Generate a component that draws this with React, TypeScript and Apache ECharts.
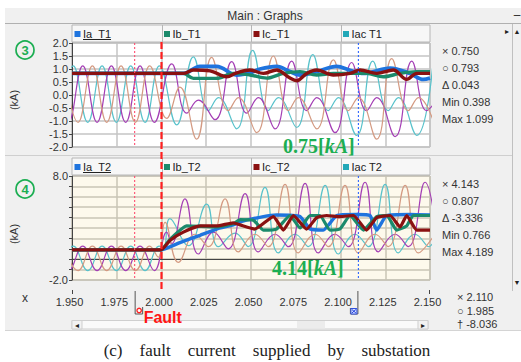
import React, { useEffect, useRef } from "react";
import * as echarts from "echarts";

// ---------- axes ----------
const X_MIN = 1.95;
const X_MAX = 2.15;
const X_STEP = 0.025;
const Y1_MIN = -2;
const Y1_MAX = 2;
const Y1_STEP = 0.5;
const Y2_MIN = -2;
const Y2_MAX = 8;
const Y2_STEP = 1;
const Y2_LABELS = [8, -2];

// ---------- cursors ----------
const FAULT_T = 2.0;
const CURSOR_O = 1.985;
const CURSOR_X = 2.11;

// ---------- texts ----------
const legendT1 = ["Ia_T1", "Ib_T1", "Ic_T1", "Iac T1"];
const legendT2 = ["Ia_T2", "Ib_T2", "Ic_T2", "Iac T2"];
const readoutT1 = ["× 0.750", "○ 0.793", "Δ 0.043", "Min 0.398", "Max 1.099"];
const readoutT2 = ["× 4.143", "○ 0.807", "Δ -3.336", "Min 0.766", "Max 4.189"];
const readoutX = ["× 2.110", "○ 1.985", "† -8.036"];
const annotT1 = "0.75";
const annotT2 = "4.14";
const caption = ["(c)", "fault", "current", "supplied", "by", "substation"];

// ---------- panel 1 (T1) : instantaneous phase currents ----------
const t1InstA: number[][] = [
  [1.9427, -1.05], [1.9507, 1.12], [1.9588, -1.05], [1.9668, 1.12], [1.9748, -1.05],
  [1.9828, 1.12], [1.9908, -1.05], [1.9988, 1.12], [2.0085, -1.15], [2.0178, 1.47],
  [2.0262, -0.6], [2.0318, -0.1], [2.042, -1.3], [2.0509, 1.72], [2.0597, -0.6],
  [2.0653, -0.1], [2.0755, -1.25], [2.0845, 1.55], [2.0932, -0.6], [2.0988, -0.1],
  [2.109, -1.55], [2.118, 1.3], [2.1267, -0.6], [2.1323, -0.1], [2.1426, -1.55], [2.1515, 1.1],
];
const t1InstB: number[][] = [
  [1.9399, 1.12], [1.948, -1.05], [1.956, 1.12], [1.964, -1.05], [1.972, 1.12],
  [1.98, -1.05], [1.988, 1.12], [1.996, -1.05], [2.0057, 1.2], [2.0141, -0.7],
  [2.0206, -0.2], [2.0299, -0.95], [2.0392, 1.28], [2.0476, -0.7], [2.0541, -0.1],
  [2.0634, -1.3], [2.0727, 1.3], [2.0811, -0.6], [2.0867, -0.1], [2.0969, -1.45],
  [2.1062, 1.25], [2.1146, -0.6], [2.1202, -0.1], [2.1305, -1.6], [2.1398, 1.3],
  [2.1481, -0.6], [2.1537, -0.2],
];
const t1InstC: number[][] = [
  [1.9453, 1.12], [1.9534, -1.05], [1.9614, 1.12], [1.9694, -1.05], [1.9774, 1.12],
  [1.9854, -1.05], [1.9934, 1.12], [2.0029, -0.9], [2.0103, 0.3], [2.0196, -1.7],
  [2.028, 1.45], [2.0373, -0.6], [2.0429, -0.1], [2.0532, -1.45], [2.0625, 1.5],
  [2.0709, -0.6], [2.0764, -0.1], [2.0867, -1.3], [2.096, 1.35], [2.1044, -0.6],
  [2.11, -0.1], [2.1202, -1.7], [2.1286, 1.4], [2.1379, -0.6], [2.1435, -0.1], [2.1537, -1.4],
];
// ---------- panel 1 (T1) : rms ----------
const t1Ia: number[][] = [
  [1.95, 0.83], [2.0122, 0.83], [2.0215, 1.1], [2.0308, 1.1], [2.042, 0.77], [2.0494, 0.85],
  [2.055, 1.0], [2.0643, 1.1], [2.0718, 0.9], [2.0774, 0.77], [2.0867, 0.9], [2.0979, 1.1],
  [2.1053, 0.95], [2.1128, 0.83], [2.1277, 1.03], [2.1388, 0.83], [2.1463, 0.6], [2.15, 0.65],
];
const t1Ib: number[][] = [
  [1.95, 0.83], [2.0122, 0.83], [2.0178, 0.64], [2.0308, 0.64], [2.0401, 0.83], [2.0494, 0.77],
  [2.0588, 0.65], [2.0681, 0.83], [2.0774, 0.9], [2.0867, 0.77], [2.096, 0.83], [2.1146, 0.83],
  [2.1239, 0.7], [2.1332, 0.83], [2.1426, 0.9], [2.15, 0.9],
];
const t1Ic: number[][] = [
  [1.95, 0.83], [2.0122, 0.83], [2.0178, 0.96], [2.0271, 0.93], [2.0364, 0.7], [2.042, 0.85],
  [2.0494, 0.96], [2.0569, 0.83], [2.0643, 0.96], [2.0718, 0.65], [2.0755, 0.55], [2.0811, 0.83],
  [2.0867, 0.96], [2.096, 0.77], [2.1053, 0.83], [2.1109, 0.96], [2.1202, 0.83], [2.1295, 0.96],
  [2.137, 0.6], [2.1426, 0.83], [2.15, 0.83],
];

// ---------- panel 2 (T2) : instantaneous phase currents ----------
const t2InstA: number[][] = [
  [1.9427, -1.1], [1.9507, 1.25], [1.9588, -1.1], [1.9668, 1.25], [1.9748, -1.1],
  [1.9828, 1.25], [1.9908, -1.1], [1.9988, 1.25], [2.0012, 0.9], [2.0047, 3.9],
  [2.015, 1.3], [2.0252, 5.3], [2.0318, 1.2], [2.0411, 2.5], [2.0485, 1.2], [2.0578, 6.9],
  [2.0653, 0.6], [2.0746, 2.4], [2.082, 1.2], [2.0914, 7.1], [2.0988, 0.5], [2.1081, 2.4],
  [2.1156, 1.2], [2.1249, 7.2], [2.1323, 0.6], [2.1416, 2.4], [2.1491, 1.2], [2.1584, 7.0],
];
const t2InstB: number[][] = [
  [1.9399, 1.25], [1.948, -1.1], [1.956, 1.25], [1.964, -1.1], [1.972, 1.25], [1.98, -1.1],
  [1.988, 1.25], [1.996, -1.1], [2.0029, 2.6], [2.0057, 1.5], [2.0131, 5.8], [2.0206, 0.5],
  [2.029, 2.6], [2.0373, 1.0], [2.0467, 6.3], [2.0541, 0.7], [2.0634, 2.4], [2.0709, 1.2],
  [2.0802, 7.3], [2.0876, 0.6], [2.0969, 2.4], [2.1044, 1.2], [2.1137, 7.4], [2.1211, 0.7],
  [2.1305, 2.4], [2.1379, 1.2], [2.1472, 7.4], [2.1547, 0.7],
];
const t2InstC: number[][] = [
  [1.9453, 1.25], [1.9534, -1.1], [1.9614, 1.25], [1.9694, -1.1], [1.9774, 1.25],
  [1.9854, -1.1], [1.9934, 1.25], [1.9982, 0.2], [2.002, 3.55], [2.0094, -0.3],
  [2.0187, 2.4], [2.0262, 1.2], [2.0355, 5.8], [2.0429, 0.7], [2.0522, 2.4], [2.0597, 1.2],
  [2.069, 7.2], [2.0764, 0.6], [2.0858, 2.4], [2.0932, 1.2], [2.1025, 7.1], [2.11, 0.6],
  [2.1193, 2.4], [2.1267, 1.2], [2.1361, 7.1], [2.1435, 0.6], [2.1528, 2.4],
];
// ---------- panel 2 (T2) : rms ----------
const t2Ia: number[][] = [
  [1.95, 0.9], [1.9997, 0.9], [2.0103, 1.6], [2.0215, 2.3], [2.0308, 2.9], [2.0401, 3.3],
  [2.0439, 3.6], [2.0569, 4.1], [2.0643, 4.25], [2.0774, 4.1], [2.083, 2.9], [2.0904, 2.8],
  [2.0979, 4.2], [2.109, 4.3], [2.1165, 4.2], [2.1202, 2.8], [2.1258, 4.2], [2.1388, 4.3],
  [2.15, 4.25],
];
const t2Ib: number[][] = [
  [1.95, 0.9], [1.9997, 0.9], [2.0047, 1.9], [2.0141, 3.2], [2.0308, 3.1], [2.0401, 3.4],
  [2.0439, 3.8], [2.0513, 3.75], [2.0569, 2.8], [2.0643, 2.9], [2.0718, 4.2], [2.0774, 3.0],
  [2.083, 4.2], [2.0885, 4.2], [2.0941, 2.8], [2.0997, 2.9], [2.1053, 4.2], [2.1128, 2.8],
  [2.1202, 4.1], [2.1258, 4.2], [2.1314, 2.8], [2.137, 3.2], [2.1407, 4.2], [2.15, 4.2],
];
const t2Ic: number[][] = [
  [1.95, 0.9], [1.9997, 0.9], [2.0047, 1.8], [2.0122, 2.6], [2.0215, 3.2], [2.0308, 3.2],
  [2.0401, 3.5], [2.0439, 3.3], [2.0522, 2.9], [2.0625, 4.1], [2.0681, 2.8], [2.0737, 4.2],
  [2.0811, 2.9], [2.0867, 4.0], [2.0923, 4.2], [2.0997, 4.1], [2.1072, 4.2], [2.1146, 2.8],
  [2.1202, 4.0], [2.1277, 4.2], [2.1333, 3.1], [2.137, 4.2], [2.1426, 2.8], [2.15, 2.8],
];

// ---------- colours ----------
const COL_IA = "#1f74de";
const COL_IB = "#1b8a6b";
const COL_IC = "#8a1111";
const COL_IAC = "#22a8b8";
const COL_A = "#58c2cb";
const COL_B = "#a43fb5";
const COL_C = "#d49a82";
const LEGEND_COLORS = [COL_IA, COL_IB, COL_IC, COL_IAC];
const GREEN = "#1cae52";

const SANS = '"Liberation Sans", Arial, sans-serif';
const SERIF = '"Liberation Serif", "Times New Roman", serif';

function txt(x: number, y: number, text: string, o: any = {}) {
  const align = o.align || "left";
  const va = o.va || "middle";
  return {
    type: "text",
    x,
    y,
    rotation: o.rotation || 0,
    silent: true,
    z: o.z || 50,
    style: {
      text,
      fill: o.fill || "#2a2a2a",
      font: o.font || `11px ${SANS}`,
      align,
      verticalAlign: va,
      textAlign: align,
      textVerticalAlign: va,
      rich: o.rich,
    },
  };
}
function line(x1: number, y1: number, x2: number, y2: number, stroke: string, o: any = {}) {
  return {
    type: "line",
    silent: true,
    z: o.z || 40,
    shape: { x1, y1, x2, y2 },
    style: { stroke, lineWidth: o.lw || 1, lineDash: o.dash },
  };
}
function rect(x: number, y: number, w: number, h: number, fill: string, stroke?: string, z = 30) {
  return {
    type: "rect",
    silent: true,
    z,
    shape: { x, y, width: w, height: h },
    style: { fill, stroke: stroke || null, lineWidth: 1 },
  };
}

const GRID_L = 72;
const GRID_W = 358;
const GRID_TOPS = [43, 176];
const GRID_H = 104;

export default function App() {
  const ref = useRef<HTMLDivElement>(null);

  useEffect(() => {
    if (!ref.current) return;
    const chart = echarts.init(ref.current, undefined, { renderer: "svg" });

    const labelFont = { fontFamily: "Liberation Sans", fontSize: 11, color: "#333" };
    const xAxis = (gi: number, show: boolean) => ({
      type: "value",
      gridIndex: gi,
      min: X_MIN,
      max: X_MAX,
      interval: X_STEP,
      offset: show ? 10 : 0,
      axisLine: { show, lineStyle: { color: "#444", width: 1 } },
      axisTick: { show: false },
      axisLabel: {
        show,
        margin: 6,
        padding: [0, 5, 0, 0],
        formatter: (v: number) => v.toFixed(3),
        ...labelFont,
      },
      splitLine: { show: true, lineStyle: { color: gi === 0 ? "#c4c4c4" : "#c9c4b6", width: 1.5 } },
    });
    const yAxis = (gi: number) => ({
      type: "value",
      gridIndex: gi,
      min: gi === 0 ? Y1_MIN : Y2_MIN,
      max: gi === 0 ? Y1_MAX : Y2_MAX,
      interval: gi === 0 ? Y1_STEP : Y2_STEP,
      axisLine: { show: true, onZero: false, lineStyle: { color: "#444", width: 1 } },
      axisTick: { show: true, length: 3, lineStyle: { color: "#444" } },
      axisLabel: {
        margin: 4,
        ...labelFont,
        formatter: (v: number) =>
          gi === 0 ? v.toFixed(1) : Y2_LABELS.indexOf(v) >= 0 ? v.toFixed(1) : "",
      },
      splitLine: { show: true, lineStyle: { color: gi === 0 ? "#c4c4c4" : "#c9c4b6", width: 1.5 } },
    });

    const thin = (name: string, data: number[][], color: string, gi: number) => ({
      type: "line",
      name,
      xAxisIndex: gi,
      yAxisIndex: gi,
      data,
      showSymbol: false,
      smooth: 0.45,
      silent: true,
      z: 2,
      lineStyle: { width: 1.2, color },
    });
    const thick = (name: string, data: number[][], color: string, gi: number, w: number) => ({
      type: "line",
      name,
      xAxisIndex: gi,
      yAxisIndex: gi,
      data,
      showSymbol: false,
      smooth: gi === 0 ? 0.35 : 0.15,
      silent: true,
      z: 3,
      lineStyle: { width: w, color },
    });

    chart.setOption({
      animation: false,
      grid: GRID_TOPS.map((top, i) => ({
        left: GRID_L,
        top,
        width: GRID_W,
        height: GRID_H,
        show: true,
        backgroundColor: i === 0 ? "#ffffff" : "#fdf9ec",
        borderColor: "#a8a8a8",
        borderWidth: 1,
      })),
      xAxis: [xAxis(0, false), xAxis(1, true)],
      yAxis: [yAxis(0), yAxis(1)],
      series: [
        thin("Iac T1 a", t1InstA, COL_A, 0),
        thin("Iac T1 b", t1InstB, COL_B, 0),
        thin("Iac T1 c", t1InstC, COL_C, 0),
        thick(legendT1[0], t1Ia, COL_IA, 0, 3.8),
        thick(legendT1[1], t1Ib, COL_IB, 0, 3.4),
        thick(legendT1[2], t1Ic, COL_IC, 0, 3.4),
        thin("Iac T2 a", t2InstA, COL_A, 1),
        thin("Iac T2 b", t2InstB, COL_B, 1),
        thin("Iac T2 c", t2InstC, COL_C, 1),
        thick(legendT2[0], t2Ia, COL_IA, 1, 3.4),
        thick(legendT2[1], t2Ib, COL_IB, 1, 3.2),
        thick(legendT2[2], t2Ic, COL_IC, 1, 3.2),
      ],
    });

    const px = (t: number) => chart.convertToPixel({ xAxisIndex: 0 }, t) as number;
    const fx = px(FAULT_T);
    const cO = px(CURSOR_O);
    const cX = px(CURSOR_X);

    const els: any[] = [];
    // cursor lines inside plots
    GRID_TOPS.forEach((top) => {
      els.push(line(cO, top, cO, top + GRID_H, "#ff4d70", { lw: 1.1, dash: [2, 2], z: 20 }));
      els.push(line(cX, top, cX, top + GRID_H, "#2f66ff", { lw: 1.1, dash: [2, 2], z: 20 }));
    });
    // title bar
    els.push(line(5, 23.5, 521, 23.5, "#b0b0b0"));
    els.push(txt(265, 16, "Main : Graphs", { align: "center", font: `12px ${SANS}`, fill: "#333" }));
    els.push(txt(517, 15, "–", { align: "center", font: `12px ${SANS}` }));
    // right scrollbar
    els.push(line(512.5, 24, 512.5, 291, "#c0c0c0"));
    els.push(txt(507, 31, "▸", { align: "center", font: `8px ${SANS}`, fill: "#222" }));
    els.push(txt(517, 31, "▲", { align: "center", font: `7px ${SANS}`, fill: "#222" }));
    els.push(txt(517, 282, "▼", { align: "center", font: `7px ${SANS}`, fill: "#222" }));
    // separator between panels
    els.push(line(5, 155.5, 512, 155.5, "#cfcfcf"));

    // headers
    const headers = [
      { y: 25, names: legendT1 },
      { y: 158, names: legendT2 },
    ];
    headers.forEach((h) => {
      els.push(rect(GRID_L, h.y, GRID_W, 17, "#f7f7f7", "#b6b6b6"));
      for (let i = 0; i < 4; i++) {
        const tx = GRID_L + i * (GRID_W / 4);
        if (i > 0) els.push(line(Math.round(tx) + 0.5, h.y, Math.round(tx) + 0.5, h.y + 17, "#b6b6b6"));
        els.push(rect(tx + 2.5, h.y + 6, 6, 6, LEGEND_COLORS[i], undefined, 41));
        els.push(txt(tx + 11, h.y + 9, h.names[i], { fill: "#222" }));
        if (i === 0) els.push(line(tx + 11, h.y + 14.5, tx + 39, h.y + 14.5, "#222"));
      }
    });

    // left labels
    [100, 234].forEach((y) =>
      els.push(txt(14, y, "(kA)", { align: "center", rotation: Math.PI / 2, fill: "#333" }))
    );
    [
      { y: 50, n: "3" },
      { y: 189, n: "4" },
    ].forEach((c) => {
      els.push({
        type: "circle",
        silent: true,
        z: 50,
        shape: { cx: 25, cy: c.y, r: 9 },
        style: { fill: "none", stroke: GREEN, lineWidth: 1.7 },
      });
      els.push(txt(25, c.y + 0.5, c.n, { align: "center", font: `bold 13px ${SANS}`, fill: GREEN }));
    });

    // right readouts
    readoutT1.forEach((s, i) => els.push(txt(442, 51 + i * 17, s, { fill: "#333" })));
    readoutT2.forEach((s, i) => els.push(txt(442, 184 + i * 17, s, { fill: "#333" })));
    readoutX.forEach((s, i) => els.push(txt(457, 297 + i * 13.5, s, { fill: "#333" })));

    // bottom axis area
    els.push(txt(25, 298, "x", { align: "center", font: `12px ${SANS}`, fill: "#333" }));
    els.push(line(GRID_L + 0.5, 290, GRID_L + 0.5, 294, "#444"));
    els.push(line(GRID_L + GRID_W - 0.5, 290, GRID_L + GRID_W - 0.5, 294, "#444"));
    // scrollbar
    els.push(rect(GRID_L, 320.5, 356, 8.5, "#fafafa", "#cfcfcf"));
    els.push(rect(297, 321, 28, 7.5, "#ececec"));
    els.push(rect(GRID_L, 320.5, 10, 8.5, "#f2f2f2", "#cfcfcf", 31));
    els.push(rect(418, 320.5, 10, 8.5, "#f2f2f2", "#cfcfcf", 31));
    els.push(txt(77, 325, "◂", { align: "center", font: `8px ${SANS}`, fill: "#222" }));
    els.push(txt(423, 325, "▸", { align: "center", font: `8px ${SANS}`, fill: "#222" }));
    // window bottom edge
    els.push(line(5, 330.5, 521, 330.5, "#d4d4d4"));

    // fault line
    els.push(line(fx, 42, fx, 289, "#ff1f1f", { lw: 2.2, dash: [7, 3], z: 90 }));
    // cursor handles
    els.push({
      type: "polyline",
      silent: true,
      z: 60,
      shape: { points: [[cO + 0.5, 291], [cO + 0.5, 314], [cO + 8, 314], [cO + 8, 307]] },
      style: { stroke: "#555", lineWidth: 1, fill: "none" },
    });
    els.push({
      type: "circle",
      silent: true,
      z: 61,
      shape: { cx: cO + 4.5, cy: 310.5, r: 2.2 },
      style: { fill: "#fff", stroke: "#ff2020", lineWidth: 1.3 },
    });
    els.push({
      type: "polyline",
      silent: true,
      z: 60,
      shape: { points: [[cX - 0.5, 291], [cX - 0.5, 314], [cX - 8, 314], [cX - 8, 308]] },
      style: { stroke: "#555", lineWidth: 1, fill: "none" },
    });
    els.push(rect(cX - 7.5, 308.5, 6, 5.5, "#d6e0ff", "#3050e0", 61));
    els.push({
      type: "polyline",
      silent: true,
      z: 62,
      shape: { points: [[cX - 6.5, 309.5], [cX - 2.5, 313]] },
      style: { stroke: "#2040e0", lineWidth: 1 },
    });
    els.push({
      type: "polyline",
      silent: true,
      z: 62,
      shape: { points: [[cX - 2.5, 309.5], [cX - 6.5, 313]] },
      style: { stroke: "#2040e0", lineWidth: 1 },
    });
    els.push(txt(cO + 9, 317, "Fault", { font: `bold 16px ${SANS}`, fill: "#ff1414" }));

    // annotations
    const rich = {
      n: { font: `bold 20px ${SERIF}`, fill: GREEN },
      i: { font: `italic bold 20px ${SERIF}`, fill: GREEN },
    };
    els.push(txt(283, 146, `{n|${annotT1}[}{i|kA}{n|]}`, { rich, z: 95 }));
    els.push(txt(272, 268, `{n|${annotT2}[}{i|kA}{n|]}`, { rich, z: 95 }));

    // caption
    els.push(
      txt(267, 350, caption.join("\u2003"), {
        align: "center",
        font: `17px ${SERIF}`,
        fill: "#222",
      })
    );

    chart.setOption({ graphic: { elements: els } });

    return () => chart.dispose();
  }, []);

  return (
    <div style={{ position: "fixed", left: 0, top: 0, width: 521, height: 362, background: "#ffffff", overflow: "hidden" }}>
      <div style={{ position: "absolute", left: 5, top: 8, width: 516, height: 322, background: "#f0f0f0" }} />
      <div ref={ref} style={{ position: "absolute", left: 0, top: 0, width: 521, height: 362 }} />
    </div>
  );
}
